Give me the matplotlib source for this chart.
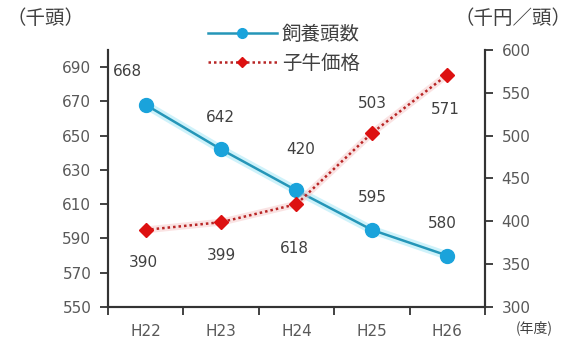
import numpy as np
import matplotlib.pyplot as plt
from matplotlib.lines import Line2D

plt.rcParams['font.family'] = ['DejaVu Sans', 'Noto Sans CJK JP']
jp = 'Noto Sans CJK JP'

years = ['H22', 'H23', 'H24', 'H25', 'H26']
heads = [668, 642, 618, 595, 580]       # 飼養頭数 (千頭)
prices = [390, 399, 420, 503, 571]      # 子牛価格 (千円/頭)

# ラベルの位置 (マーカーからのずれ, ピクセル)
heads_off = [(-18, 33), (-1, 32), (-2, -58), (0, 32), (-5, 32)]
prices_off = [(-2, -33), (0, -33), (4, 55), (0, 30), (-2, -35)]

blue = '#1AA3DB'
blue_line = '#2596B8'
red = '#DD1111'
red_line = '#B82525'
txt = '#404040'
tick_txt = '#595959'

fig = plt.figure(figsize=(5.76, 3.44), dpi=100)
ax = fig.add_axes([0.1875, 0.1076, 0.6545, 0.7471])
ax2 = ax.twinx()

x = np.arange(len(years))

# 光彩
ax.plot(x, heads, color='#9EE6F7', lw=6, alpha=0.5, solid_capstyle='round', zorder=2)
ax.plot(x, heads, color=blue_line, lw=1.8, marker='o', ms=10,
        mfc=blue, mec=blue, zorder=3)
ax2.plot(x, prices, color='#F7C8C8', lw=5, alpha=0.5, zorder=2)
ax2.plot(x, prices, color=red_line, lw=1.8, ls=(0, (1, 1.2)), marker='D', ms=7,
         mfc=red, mec=red, zorder=3)

for xi, v, off in zip(x, heads, heads_off):
    ax.annotate(str(v), (xi, v), xytext=off, textcoords='offset pixels',
                ha='center', va='center', fontsize=11, color=txt)
for xi, v, off in zip(x, prices, prices_off):
    ax2.annotate(str(v), (xi, v), xytext=off, textcoords='offset pixels',
                 ha='center', va='center', fontsize=11, color=txt)

ax.set_xlim(-0.5, 4.5)
ax.set_ylim(550, 700)
ax.set_yticks(np.arange(550, 691, 20))
ax2.set_ylim(300, 600)
ax2.set_yticks(np.arange(300, 601, 50))

ax.set_xticks(x)
ax.set_xticklabels(years)
ax.set_xticks(np.arange(-0.5, 4.6, 1), minor=True)
ax.tick_params(axis='x', which='major', length=0, pad=12, labelsize=11, labelcolor=tick_txt)
ax.tick_params(axis='x', which='minor', length=6, width=1.3, direction='out', color='#333333')
ax.tick_params(axis='y', length=6, width=1.3, direction='out', labelsize=11,
               labelcolor=tick_txt, color='#333333', pad=6)
ax2.tick_params(axis='y', length=6, width=1.3, direction='out', labelsize=11,
                labelcolor=tick_txt, color='#333333', pad=6)

for a in (ax, ax2):
    a.spines['top'].set_visible(False)
    for s in ('left', 'right', 'bottom'):
        a.spines[s].set_linewidth(1.5)
        a.spines[s].set_color('#333333')

fig.text(0.012, 0.945, '（千頭）', fontsize=14, color=txt, va='center', ha='left', family=jp)
fig.text(0.993, 0.945, '（千円／頭）', fontsize=14, color=txt, va='center', ha='right', family=jp)
fig.text(0.927, 0.047, '(年度)', fontsize=10, color=txt, va='center', ha='center', family=jp)

handles = [
    Line2D([], [], color=blue_line, lw=1.8, marker='o', ms=7, mfc=blue, mec=blue),
    Line2D([], [], color=red_line, lw=1.8, ls=(0, (1, 1.2)), marker='D', ms=5,
           mfc=red, mec=red),
]
fig.legend(handles, ['飼養頭数', '子牛価格'], loc='upper left',
           bbox_to_anchor=(0.33, 0.981), frameon=False,
           prop={'family': jp, 'size': 14},
           handlelength=3.55, handletextpad=0.26, labelspacing=0.4, labelcolor=txt)

fig.savefig('out.png', dpi=100)
